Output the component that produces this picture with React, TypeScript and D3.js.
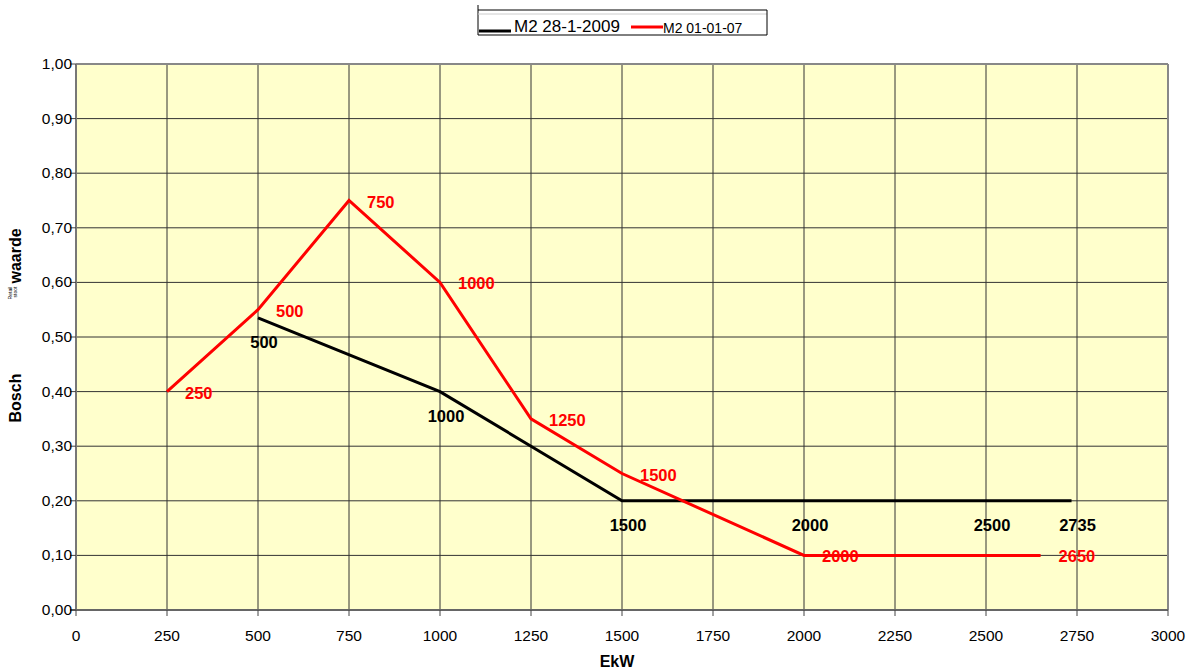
import React from "react";
import * as d3 from "d3";

const redX = [250, 500, 750, 1000, 1250, 1500, 2000, 2650];
const redY = [0.4, 0.55, 0.75, 0.6, 0.35, 0.25, 0.1, 0.1];
const blackX = [500, 1000, 1250, 1500, 2000, 2500, 2735];
const blackY = [0.535, 0.4, 0.3, 0.2, 0.2, 0.2, 0.2];
const blackLabeled = [500, 1000, 1500, 2000, 2500, 2735];
const xTicks = d3.range(0, 3001, 250);
const yTicks = d3.range(0, 11).map((i) => i / 10);
const seriesNames = ["M2 28-1-2009", "M2 01-01-07"];

export default function App() {
  const x = d3.scaleLinear().domain([0, 3000]).range([76, 1168]);
  const y = d3.scaleLinear().domain([0, 1]).range([610, 64]);
  const line = d3.line<[number, number]>().x((d) => x(d[0])).y((d) => y(d[1]));
  const red = redX.map((v, i) => [v, redY[i]] as [number, number]);
  const black = blackX.map((v, i) => [v, blackY[i]] as [number, number]);
  const font = "Liberation Sans, Arial, sans-serif";
  return (
    <svg width={1190} height={670} style={{ position: "absolute", left: 0, top: 0, background: "#fff" }} fontFamily={font}>
      <rect x={76} y={64} width={1092} height={546} fill="#FFFFCC" />
      {xTicks.slice(1).map((t) => (
        <line key={"gx" + t} x1={x(t)} x2={x(t)} y1={64} y2={610} stroke="#333" strokeWidth={1} />
      ))}
      {yTicks.slice(1).map((t) => (
        <line key={"gy" + t} x1={76} x2={1168} y1={y(t)} y2={y(t)} stroke="#333" strokeWidth={1} />
      ))}
      <line x1={76} x2={1168} y1={64} y2={64} stroke="#888" strokeWidth={2} />
      <line x1={1168} x2={1168} y1={64} y2={610} stroke="#888" strokeWidth={2} />
      <line x1={76} x2={76} y1={64} y2={611} stroke="#777" strokeWidth={2} />
      <line x1={70} x2={1168} y1={610} y2={610} stroke="#666" strokeWidth={2} />
      {yTicks.map((t) => (
        <g key={"ty" + t}>
          <line x1={70} x2={76} y1={y(t)} y2={y(t)} stroke="#444" />
          <text x={72} y={y(t) + 5} textAnchor="end" fontSize={15.5} fill="#000">
            {t.toFixed(2).replace(".", ",")}
          </text>
        </g>
      ))}
      {xTicks.map((t) => (
        <g key={"tx" + t}>
          <line x1={x(t)} x2={x(t)} y1={610} y2={616} stroke="#444" />
          <text x={x(t)} y={641} textAnchor="middle" fontSize={15.5} fill="#000">
            {t}
          </text>
        </g>
      ))}
      <path d={line(black) || ""} fill="none" stroke="#000" strokeWidth={3} />
      <path d={line(red) || ""} fill="none" stroke="#FF0000" strokeWidth={3} />
      {red.map((d) => (
        <text key={"rl" + d[0]} x={x(d[0]) + 18} y={y(d[1]) + 7} fontSize={16.5} fontWeight="bold" fill="#FF0000">
          {d[0]}
        </text>
      ))}
      {black
        .filter((d) => blackLabeled.includes(d[0]))
        .map((d) => (
          <text key={"bl" + d[0]} x={x(d[0]) + 6} y={y(d[1]) + 30} fontSize={16.5} fontWeight="bold" textAnchor="middle" fill="#000">
            {d[0]}
          </text>
        ))}
      <text x={617} y={667} textAnchor="middle" fontSize={16} fontWeight="bold">EkW</text>
      <text transform="translate(21,398) rotate(-90)" textAnchor="middle" fontSize={16} fontWeight="bold">Bosch</text>
      <text transform="translate(21,256) rotate(-90)" textAnchor="middle" fontSize={16} fontWeight="bold">waarde</text>
      <text transform="translate(12,293) rotate(-90)" textAnchor="middle" fontSize={5}>Retail</text>
      <text transform="translate(17,292) rotate(-90)" textAnchor="middle" fontSize={5}>stoot</text>
      <g>
        <line x1={478} x2={478} y1={5} y2={35} stroke="#000" strokeWidth={1} />
        <line x1={478} x2={767} y1={14} y2={14} stroke="#ccc" strokeWidth={1} />
        <line x1={478} x2={767} y1={10} y2={10} stroke="#000" strokeWidth={1} />
        <line x1={767} x2={767} y1={10} y2={35} stroke="#000" strokeWidth={1} />
        <line x1={478} x2={767} y1={35} y2={35} stroke="#000" strokeWidth={1} />
        <line x1={479} x2={511} y1={31} y2={31} stroke="#000" strokeWidth={3} />
        <text x={514} y={32} fontSize={17}>{seriesNames[0]}</text>
        <line x1={631} x2={663} y1={27} y2={27} stroke="#FF0000" strokeWidth={3} />
        <text x={663} y={33} fontSize={14}>{seriesNames[1]}</text>
      </g>
    </svg>
  );
}
